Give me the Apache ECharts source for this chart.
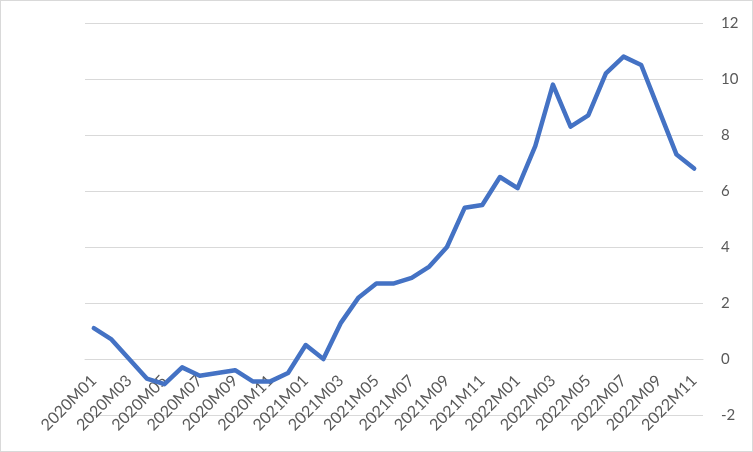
<!DOCTYPE html>
<html>
<head>
<meta charset="utf-8">
<script src="https://cdn.jsdelivr.net/npm/echarts@6/dist/echarts.min.js"></script>
<style>
html,body{margin:0;padding:0;background:#fff;}
#wrap{position:absolute;left:0;top:0;width:751px;height:450px;border:1px solid #d9d9d9;}
#chart{position:absolute;left:-1px;top:-1px;width:753px;height:452px;}
</style>
</head>
<body>
<div id="wrap"><div id="chart"></div></div>
<script>
const categories = [
  "2020M01","2020M02","2020M03","2020M04","2020M05","2020M06","2020M07","2020M08","2020M09","2020M10","2020M11","2020M12",
  "2021M01","2021M02","2021M03","2021M04","2021M05","2021M06","2021M07","2021M08","2021M09","2021M10","2021M11","2021M12",
  "2022M01","2022M02","2022M03","2022M04","2022M05","2022M06","2022M07","2022M08","2022M09","2022M10","2022M11"
];
const values = [
  1.1, 0.7, 0.0, -0.7, -0.9, -0.3, -0.6, -0.5, -0.4, -0.8, -0.8, -0.5,
  0.5, 0.0, 1.3, 2.2, 2.7, 2.7, 2.9, 3.3, 4.0, 5.4, 5.5, 6.5,
  6.1, 7.6, 9.8, 8.3, 8.7, 10.2, 10.8, 10.5, 8.9, 7.3, 6.8
];
const yMin = -2, yMax = 12, yStep = 2;

const W = 753, H = 452;
const gridTop = 23, gridBottom = 37;
const gridH = H - gridTop - gridBottom;
// place the category axis where the value axis crosses zero
const zeroOffset = -((0 - yMin) / (yMax - yMin)) * gridH;

const chart = echarts.init(document.getElementById('chart'));
const font = 'Lato, "Open Sans", sans-serif';
chart.setOption({
  animation: false,
  grid: {left: 85, right: 50, top: gridTop, bottom: gridBottom, containLabel: false, outerBoundsMode: 'none'},
  xAxis: {
    type: 'category',
    data: categories,
    boundaryGap: true,
    offset: zeroOffset,
    z: 0,
    axisLine: {show: true, onZero: false, lineStyle: {color: '#d9d9d9', width: 1}},
    axisTick: {show: false},
    axisLabel: {
      interval: 1, rotate: 45, margin: 19,
      color: '#595959', fontSize: 16, fontFamily: font
    }
  },
  yAxis: {
    type: 'value',
    position: 'right',
    min: yMin, max: yMax, interval: yStep,
    axisLine: {show: false},
    axisTick: {show: false},
    splitLine: {show: true, lineStyle: {color: '#d9d9d9', width: 1}},
    axisLabel: {margin: 18, color: '#595959', fontSize: 15, fontFamily: font}
  },
  series: [{
    type: 'line',
    data: values,
    symbol: 'none',
    z: 5,
    lineStyle: {color: '#4472C4', width: 4.5, join: 'round', cap: 'round'},
    itemStyle: {color: '#4472C4'}
  }]
});
</script>
</body>
</html>
